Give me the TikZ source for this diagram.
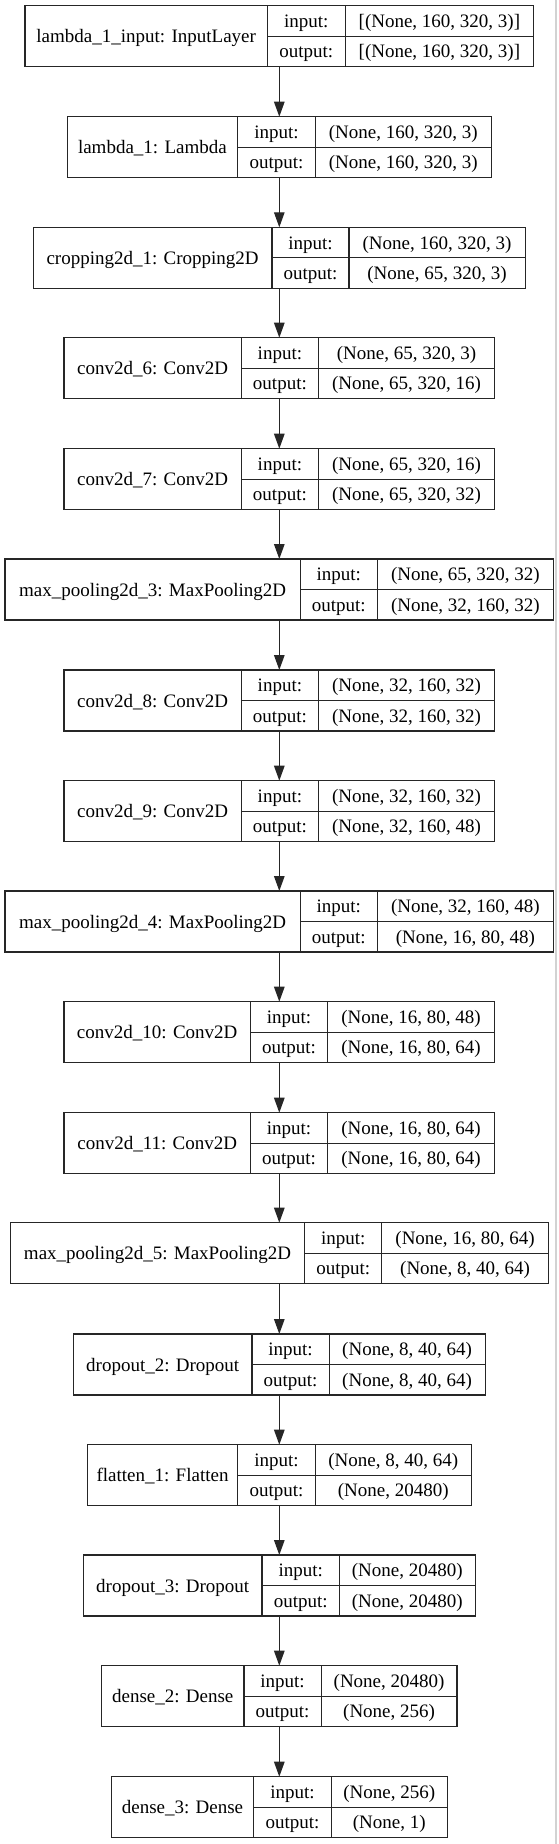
\documentclass[tikz,border=0pt]{standalone}
\usepackage{fontspec}
\setmainfont{Liberation Serif}
\usetikzlibrary{arrows.meta}
\definecolor{edge}{HTML}{262626}
\definecolor{rim} {HTML}{D2D2D2}
% #1 id, #2 top, #3 left, #4 first divider, #5 second divider, #6 right,
% #7 layer name, #8 input shape, #9 output shape
\newcommand{\layer}[9]{%
  \node[layerbox, minimum width={(#6-#3)*1pt}] (#1) at (279.3,{#2+30.5}) {};
  \draw[cell] (#4,#2) -- (#4,{#2+61});
  \draw[cell] (#5,#2) -- (#5,{#2+61});
  \draw[cell] (#4,{#2+30.5}) -- (#6,{#2+30.5});
  \node[lbl] (#1-name) at ({(#3+#4)/2},{#2+30.5}) {#7};
  \node[lbl] (#1-in)   at ({(#4+#5)/2},{#2+15.25}) {input:};
  \node[lbl] (#1-out)  at ({(#4+#5)/2},{#2+45.75}) {output:};
  \node[lbl] (#1-ish)  at ({(#5+#6)/2},{#2+15.25}) {#8};
  \node[lbl] (#1-osh)  at ({(#5+#6)/2},{#2+45.75}) {#9};
}

\begin{document}
\begin{tikzpicture}[
  x=1pt, y=-1pt,
  layerbox/.style={rectangle, draw=edge, line width=1.2pt, minimum height=61pt,
                   inner sep=0pt, outer sep=0pt},
  cell/.style={draw=edge, line width=1.2pt},
  lbl/.style={font=\fontsize{19}{22}\selectfont, inner sep=0pt, text height=13pt, text depth=0pt},
  flow/.style={draw=edge, line width=1.2pt, -{Triangle[length=15pt, width=10.5pt]}}
]
\useasboundingbox (0,0) rectangle (559,1844);
\draw[rim, line width=2pt] (556,0) -- (556,1844);

\layer{lambdaIn}{5.7}{25.0}{267.4}{345.1}{533.7}{lambda\_1\_input: InputLayer}{[(None, 160, 320, 3)]}{[(None, 160, 320, 3)]}
\layer{lambdaA}{116.7}{67.0}{237.8}{315.2}{491.3}{lambda\_1: Lambda}{(None, 160, 320, 3)}{(None, 160, 320, 3)}
\layer{cropA}{227.3}{33.2}{272.0}{349.0}{525.1}{cropping2d\_1: Cropping2D}{(None, 160, 320, 3)}{(None, 65, 320, 3)}
\layer{convF}{337.7}{63.8}{241.4}{318.4}{494.5}{conv2d\_6: Conv2D}{(None, 65, 320, 3)}{(None, 65, 320, 16)}
\layer{convG}{448.7}{63.8}{241.4}{318.4}{494.5}{conv2d\_7: Conv2D}{(None, 65, 320, 16)}{(None, 65, 320, 32)}
\layer{poolC}{559.0}{5.0}{300.2}{377.2}{553.6}{max\_pooling2d\_3: MaxPooling2D}{(None, 65, 320, 32)}{(None, 32, 160, 32)}
\layer{convH}{670.0}{63.8}{241.4}{318.4}{494.5}{conv2d\_8: Conv2D}{(None, 32, 160, 32)}{(None, 32, 160, 32)}
\layer{convI}{780.7}{63.8}{241.4}{318.4}{494.5}{conv2d\_9: Conv2D}{(None, 32, 160, 32)}{(None, 32, 160, 48)}
\layer{poolD}{891.0}{5.0}{300.2}{377.2}{553.6}{max\_pooling2d\_4: MaxPooling2D}{(None, 32, 160, 48)}{(None, 16, 80, 48)}
\layer{convJ}{1001.7}{63.8}{250.6}{327.6}{494.5}{conv2d\_10: Conv2D}{(None, 16, 80, 48)}{(None, 16, 80, 64)}
\layer{convK}{1112.7}{63.8}{250.6}{327.6}{494.5}{conv2d\_11: Conv2D}{(None, 16, 80, 64)}{(None, 16, 80, 64)}
\layer{poolE}{1222.7}{10.2}{304.8}{381.8}{548.4}{max\_pooling2d\_5: MaxPooling2D}{(None, 16, 80, 64)}{(None, 8, 40, 64)}
\layer{dropB}{1334.0}{73.4}{252.0}{329.1}{485.2}{dropout\_2: Dropout}{(None, 8, 40, 64)}{(None, 8, 40, 64)}
\layer{flatA}{1444.7}{87.3}{237.8}{315.2}{471.3}{flatten\_1: Flatten}{(None, 8, 40, 64)}{(None, 20480)}
\layer{dropC}{1555.0}{83.4}{262.0}{339.4}{475.2}{dropout\_3: Dropout}{(None, 20480)}{(None, 20480)}
\layer{denseB}{1665.7}{101.6}{243.9}{321.2}{457.0}{dense\_2: Dense}{(None, 20480)}{(None, 256)}
\layer{denseC}{1776.7}{111.2}{253.8}{331.2}{447.4}{dense\_3: Dense}{(None, 256)}{(None, 1)}

\foreach \a/\b in {lambdaIn/lambdaA, lambdaA/cropA, cropA/convF, convF/convG, convG/poolC,
                   poolC/convH, convH/convI, convI/poolD, poolD/convJ, convJ/convK, convK/poolE,
                   poolE/dropB, dropB/flatA, flatA/dropC, dropC/denseB, denseB/denseC}
  \draw[flow] (\a.south) -- (\b.north);
\end{tikzpicture}
\end{document}
